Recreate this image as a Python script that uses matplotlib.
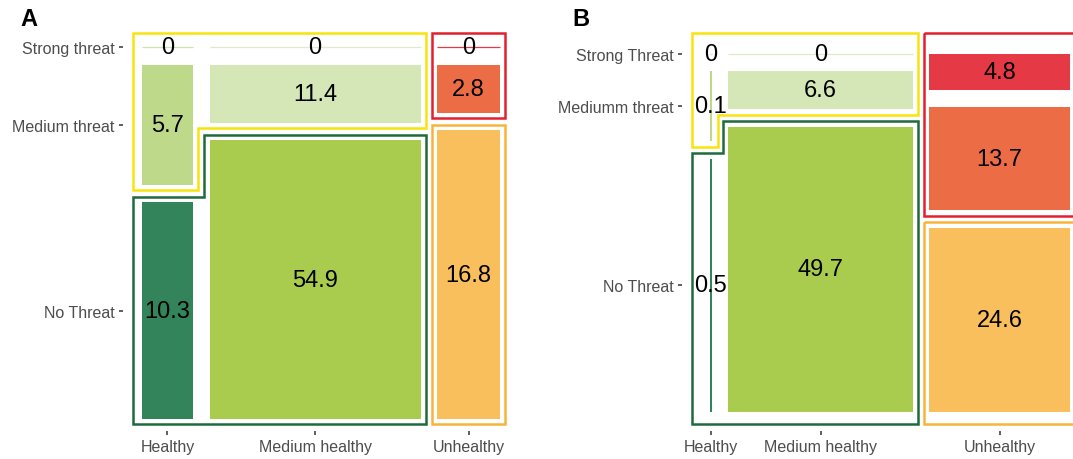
import matplotlib.pyplot as plt
from matplotlib.patches import Polygon

plt.rcParams["font.family"] = ["Liberation Sans", "DejaVu Sans"]

# columns: health status; rows inside each column: threat level (strong, medium, none)
health_labels = ["Healthy", "Medium healthy", "Unhealthy"]

threat_labels_a = ["Strong threat", "Medium threat", "No Threat"]
values_a = [
    [0.0, 5.7, 10.3],
    [0.0, 11.4, 54.9],
    [0.0, 2.8, 16.8],
]

threat_labels_b = ["Strong Threat", "Mediumm threat", "No Threat"]
values_b = [
    [0.0, 0.13, 0.47],
    [0.0, 6.6, 49.7],
    [4.8, 13.7, 24.6],
]

fill_colors = [
    ["#cfe2ae", "#bfd98b", "#33845a"],
    ["#dfeacb", "#d6e7b7", "#a9cc4f"],
    ["#e63946", "#ec6c46", "#f9bf5c"],
]
outline_colors = {"yellow": "#f6e40c", "green": "#1d6b3c", "red": "#e2202f", "orange": "#f8b43a"}

W, H = 1073, 460


def tile_boxes(values, gx, gy):
    """Mosaic layout: column width ~ column total, row height ~ share in column."""
    boxes = []
    x = 0.0
    for col in values:
        tot = sum(col)
        y = 0.0
        col_boxes = []
        for v in col:
            h = v / tot
            col_boxes.append((x, x + tot, y, y + h))
            y += h + gy
        boxes.append(col_boxes)
        x += tot + gx
    return boxes


def draw_panel(ax, values, threat_labels, lay):
    boxes = tile_boxes(values, lay["gx"], lay["gy"])
    ax.set_xlim(*lay["xlim"])
    ax.set_ylim(*lay["ylim"])
    L, R = lay["xlim"]
    B, T = lay["ylim"]
    px, py = lay["px"], lay["py"]

    for i, col in enumerate(boxes):
        for j, (x0, x1, y0, y1) in enumerate(col):
            v = values[i][j]
            if y1 > y0:
                ax.bar(x0, y1 - y0, width=x1 - x0, bottom=y0, align="edge",
                       color=fill_colors[i][j], linewidth=0)
            else:
                ax.hlines(y0, x0, x1, color=fill_colors[i][j], lw=0.9)
            ax.text((x0 + x1) / 2, (y0 + y1) / 2, f"{round(v, 1):g}",
                    ha="center", va="center", fontsize=17, color="black")

    h, m, u = boxes
    yellow = [(L, T), (m[1][1] + px, T), (m[1][1] + px, m[1][3] + py),
              (h[1][1] + px, m[1][3] + py), (h[1][1] + px, h[1][3] + py), (L, h[1][3] + py)]
    green = [(L, h[2][2] - py), (m[2][0] - px, h[2][2] - py), (m[2][0] - px, m[2][2] - py),
             (m[2][1] + px, m[2][2] - py), (m[2][1] + px, B), (L, B)]
    red = [(u[1][0] - px, T), (R, T), (R, u[1][3] + py), (u[1][0] - px, u[1][3] + py)]
    orange = [(u[2][0] - px, u[2][2] - py), (R, u[2][2] - py), (R, B), (u[2][0] - px, B)]
    for pts, key in [(yellow, "yellow"), (green, "green"), (red, "red"), (orange, "orange")]:
        ax.add_patch(Polygon(pts, closed=True, fill=False, edgecolor=outline_colors[key],
                             lw=1.8, clip_on=False, joinstyle="miter"))

    ax.set_xticks([(c[0][0] + c[0][1]) / 2 for c in boxes])
    ax.set_xticklabels(health_labels)
    ax.set_yticks([(b[2] + b[3]) / 2 for b in h])
    ax.set_yticklabels(threat_labels)

    for s in ax.spines.values():
        s.set_visible(False)
    ax.spines["left"].set_position(("outward", 7.2))
    ax.spines["bottom"].set_position(("outward", 5))
    ax.tick_params(length=2.9, width=1.1, color="#333333", labelcolor="#4d4d4d",
                   labelsize=11.5, pad=3.2)


fig = plt.figure(figsize=(W / 100, H / 100), dpi=100)

layout_a = dict(gx=5.2, gy=0.052, xlim=(-2.8, 113.9), ylim=(1.119, -0.042), px=1.7, py=0.016)
layout_b = dict(gx=5.05, gy=0.054, xlim=(-5.5, 111.6), ylim=(1.145, -0.065), px=1.7, py=0.017)

ax_a = fig.add_axes([133 / W, 35 / H, 372 / W, 391 / H])
ax_b = fig.add_axes([692 / W, 35 / H, 383 / W, 391 / H])
draw_panel(ax_a, values_a, threat_labels_a, layout_a)
draw_panel(ax_b, values_b, threat_labels_b, layout_b)

fig.text(20 / W, 1 - 26 / H, "A", fontsize=17, fontweight="bold", va="baseline")
fig.text(572 / W, 1 - 26 / H, "B", fontsize=17, fontweight="bold", va="baseline")

fig.savefig("out.png", dpi=100)
